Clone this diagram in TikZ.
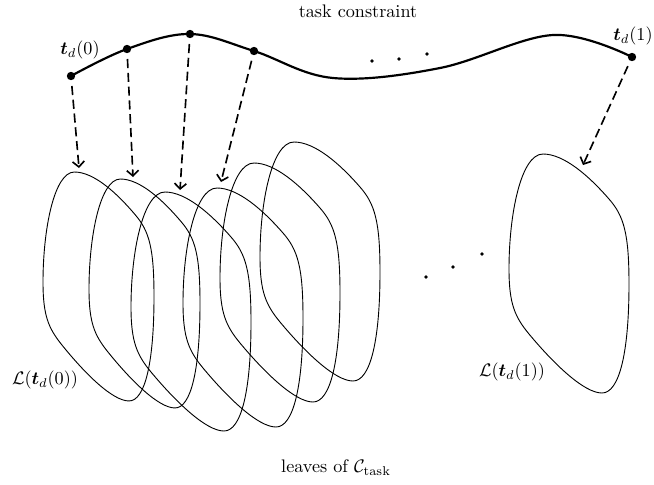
\documentclass[tikz,border=0pt]{standalone}
\usepackage{amsmath,amssymb}
\usetikzlibrary{arrows.meta}
\begin{document}
\begin{tikzpicture}[x=0.55pt,y=-0.55pt,
  leafline/.style={line width=0.5pt},
  curveline/.style={line width=1.2pt},
  bigdot/.style={circle,fill,inner sep=0pt,minimum size=4.6pt},
  smalldot/.style={circle,fill,inner sep=0pt,minimum size=2pt},
  maparrow/.style={line width=0.9pt,dash pattern=on 5pt off 2.6pt,-{Straight Barb[length=3pt,width=6.5pt]},shorten <=3pt},
  leaf/.pic={\draw[leafline] (34,0) .. controls (12,0) and (0,60) .. (0,115)
      .. controls (0,150) and (6,163) .. (20,180)
      .. controls (45,210) and (75,239) .. (93,239)
      .. controls (110,239) and (120,200) .. (120,130)
      .. controls (120,80) and (115,62) .. (100,45)
      .. controls (80,22) and (55,0) .. (34,0) -- cycle;}]
\useasboundingbox (0,0) rectangle (654,484);
% leaves
\pic[xscale=0.925,yscale=0.958] at (43,172) {leaf};
\pic[xscale=0.925,yscale=0.958] at (89,179) {leaf};
\pic at (131,192) {leaf};
\pic at (183,188) {leaf};
\pic at (220,163) {leaf};
\pic at (260,142) {leaf};
\pic at (509,154) {leaf};
% task constraint curve
\draw[curveline] plot[smooth,tension=0.6] coordinates {(71,76) (127,49) (190,34) (254,51) (333,78) (440,68) (553,35) (632,57)};
\node[bigdot] (p0) at (71,76) {};
\node[bigdot] (p1) at (127,49) {};
\node[bigdot] (p2) at (190,34) {};
\node[bigdot] (p3) at (254,51) {};
\node[bigdot] (p4) at (632,57) {};
% dots
\node[smalldot] (d1) at (372,61) {};
\node[smalldot] (d2) at (399,59) {};
\node[smalldot] (d3) at (427,54) {};
\node[smalldot] (e1) at (426,277) {};
\node[smalldot] (e2) at (453,267) {};
\node[smalldot] (e3) at (482,254) {};
% arrow ends
\coordinate (a0) at (79,168);
\coordinate (a1) at (133,177);
\coordinate (a2) at (180,190);
\coordinate (a3) at (221,182);
\coordinate (a4) at (583,165);
\draw[maparrow] (p0) -- (a0);
\draw[maparrow] (p1) -- (a1);
\draw[maparrow] (p2) -- (a2);
\draw[maparrow] (p3) -- (a3);
\draw[maparrow] (p4) -- (a4);
% labels
\node (title) at (358,11) {task constraint};
\node (t0) at (80,50) {$\boldsymbol{t}_d(0)$};
\node (t1) at (633,36) {$\boldsymbol{t}_d(1)$};
\node (L0) at (45,380) {$\mathcal{L}(\boldsymbol{t}_d(0))$};
\node (L1) at (512,372) {$\mathcal{L}(\boldsymbol{t}_d(1))$};
\node (leaves) at (336,468) {leaves of $\mathcal{C}_{\text{task}}$};
\end{tikzpicture}
\end{document}
